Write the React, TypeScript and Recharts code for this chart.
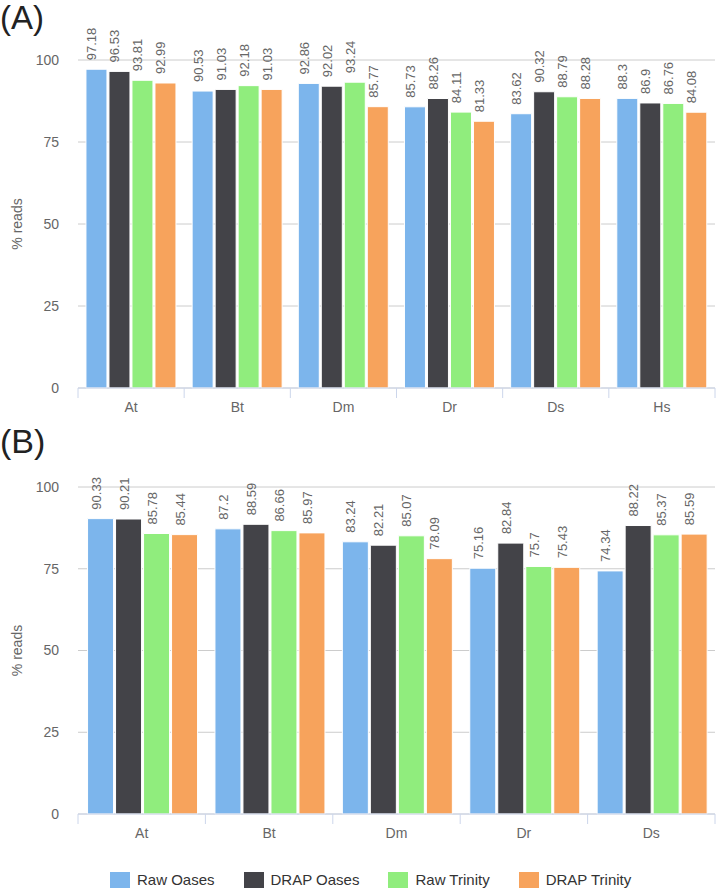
import { BarChart, Bar, XAxis, YAxis, CartesianGrid, LabelList } from "recharts";

const SERIES = ["Raw Oases", "DRAP Oases", "Raw Trinity", "DRAP Trinity"];
const COLORS = ["#7cb5ec", "#434348", "#90ed7d", "#f7a35c"];
const Y_TICKS = [0, 25, 50, 75, 100];

// panel A
const speciesA = ["At", "Bt", "Dm", "Dr", "Ds", "Hs"];
const rawOasesA = [97.18, 90.53, 92.86, 85.73, 83.62, 88.3];
const drapOasesA = [96.53, 91.03, 92.02, 88.26, 90.32, 86.9];
const rawTrinityA = [93.81, 92.18, 93.24, 84.11, 88.79, 86.76];
const drapTrinityA = [92.99, 91.03, 85.77, 81.33, 88.28, 84.08];

// panel B
const speciesB = ["At", "Bt", "Dm", "Dr", "Ds"];
const rawOasesB = [90.33, 87.2, 83.24, 75.16, 74.34];
const drapOasesB = [90.21, 88.59, 82.21, 82.84, 88.22];
const rawTrinityB = [85.78, 86.66, 85.07, 75.7, 85.37];
const drapTrinityB = [85.44, 85.97, 78.09, 75.43, 85.59];

const FONT = '"Liberation Sans", Arial, sans-serif';
const W = 716;
const Y_AXIS_W = 78;
const RIGHT = 1;
const PLOT_W = W - Y_AXIS_W - RIGHT;

const toRows = (cats: string[], s: number[][]) =>
  cats.map((c, i) => ({ name: c, s0: s[0][i], s1: s[1][i], s2: s[2][i], s3: s[3][i] }));

const dataA = toRows(speciesA, [rawOasesA, drapOasesA, rawTrinityA, drapTrinityA]);
const dataB = toRows(speciesB, [rawOasesB, drapOasesB, rawTrinityB, drapTrinityB]);

function ValueLabel(props: any) {
  const { x, y, width, value } = props;
  const cx = x + width / 2;
  const ty = y - 9;
  return (
    <text
      x={cx}
      y={ty}
      transform={`rotate(-90, ${cx}, ${ty})`}
      textAnchor="start"
      fontSize={13}
      fill="#666"
      fontFamily={FONT}
    >
      {value}
    </text>
  );
}

function makeTick(n: number) {
  const band = PLOT_W / n;
  return function CatTick(props: any) {
    const { x, y, payload, index } = props;
    const axisY = y - 14;
    return (
      <g>
        {index === 0 && (
          <line x1={x - band / 2} x2={x - band / 2} y1={axisY} y2={axisY + 10} stroke="#ccd6eb" />
        )}
        <line x1={x + band / 2} x2={x + band / 2} y1={axisY} y2={axisY + 10} stroke="#ccd6eb" />
        <text x={x} y={y + 10} textAnchor="middle" fontSize={14} fill="#666" fontFamily={FONT}>
          {payload.value}
        </text>
      </g>
    );
  };
}

function YTitle(props: any) {
  const vb = props.viewBox;
  const cy = vb.y + vb.height / 2;
  return (
    <text
      x={18}
      y={cy}
      transform={`rotate(-90, 18, ${cy})`}
      textAnchor="middle"
      dominantBaseline="middle"
      fontSize={14}
      fill="#666"
      fontFamily={FONT}
    >
      % reads
    </text>
  );
}

function Panel({ data, height, top, n }: { data: any[]; height: number; top: number; n: number }) {
  return (
    <BarChart
      width={W}
      height={height}
      data={data}
      margin={{ top, right: RIGHT, left: 0, bottom: 0 }}
      barCategoryGap="7.5%"
      barGap={2}
    >
      <CartesianGrid vertical={false} stroke="#cccccc" />
      <XAxis
        dataKey="name"
        height={42}
        axisLine={{ stroke: "#ccd6eb" }}
        tickLine={false}
        tickSize={10}
        tickMargin={4}
        interval={0}
        tick={makeTick(n)}
      />
      <YAxis
        width={Y_AXIS_W}
        domain={[0, 100]}
        ticks={Y_TICKS}
        axisLine={false}
        tickLine={false}
        tickSize={6}
        tickMargin={13}
        tick={{ fontSize: 14, fill: "#666", fontFamily: FONT }}
        label={<YTitle />}
      />
      {SERIES.map((s, i) => (
        <Bar
          key={s}
          dataKey={`s${i}`}
          name={s}
          fill={COLORS[i]}
          stroke="#fff"
          strokeWidth={1}
          isAnimationActive={false}
        >
          <LabelList dataKey={`s${i}`} content={<ValueLabel />} />
        </Bar>
      ))}
    </BarChart>
  );
}

export default function App() {
  return (
    <div
      style={{
        position: "absolute",
        left: 0,
        top: 0,
        width: W,
        height: 888,
        background: "#fff",
        fontFamily: FONT,
        overflow: "hidden",
      }}
    >
      <div style={{ position: "absolute", left: 0, top: 0 }}>
        <Panel data={dataA} height={430} top={60} n={speciesA.length} />
      </div>
      <div style={{ position: "absolute", left: 0, top: 440 }}>
        <Panel data={dataB} height={416} top={47} n={speciesB.length} />
      </div>
      <div style={{ position: "absolute", left: 0, top: 0, fontSize: 33, lineHeight: "36px", color: "#222" }}>
        (A)
      </div>
      <div style={{ position: "absolute", left: 0, top: 423, fontSize: 34, lineHeight: "36px", color: "#222" }}>
        (B)
      </div>
      <div
        style={{
          position: "absolute",
          left: 110,
          top: 871,
          display: "flex",
          alignItems: "center",
          fontSize: 15,
          color: "#333",
        }}
      >
        {SERIES.map((s, i) => (
          <div key={s} style={{ display: "flex", alignItems: "center", marginRight: 29 }}>
            <div style={{ width: 20, height: 16, background: COLORS[i], marginRight: 7 }} />
            <span>{s}</span>
          </div>
        ))}
      </div>
    </div>
  );
}
